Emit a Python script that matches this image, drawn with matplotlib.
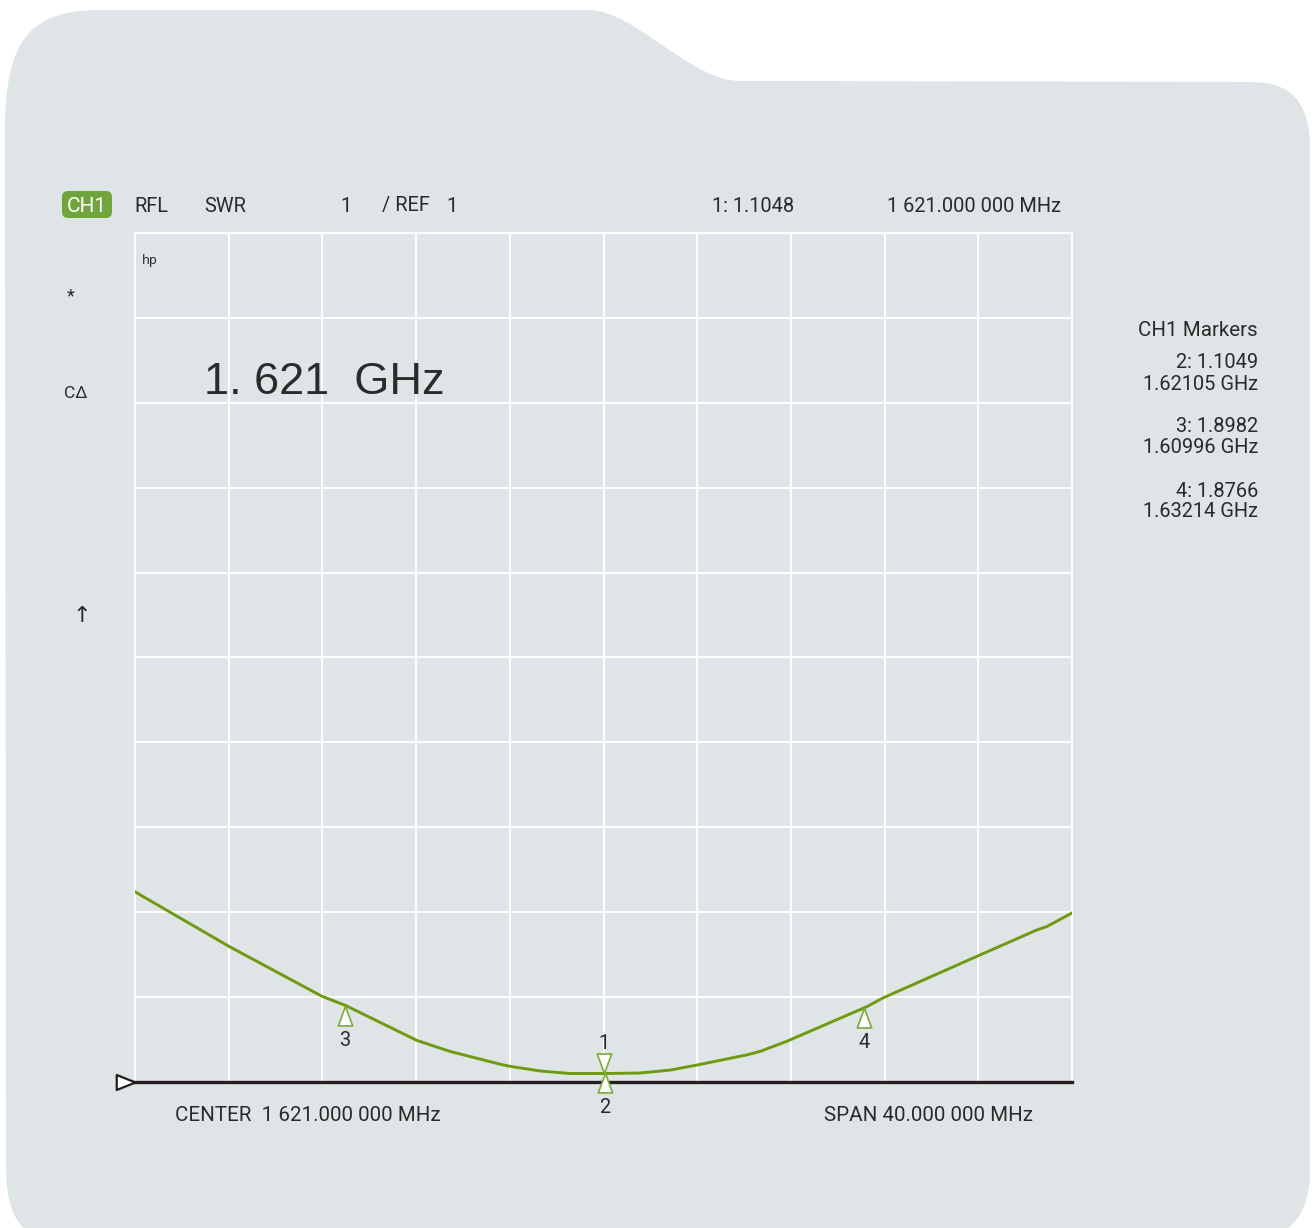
"""SWR sweep on a network-analyzer style panel (CH1, 1.621 GHz centre)."""
import numpy as np
import matplotlib; matplotlib.use("Agg")
import matplotlib.pyplot as plt
from matplotlib.path import Path
from matplotlib.patches import PathPatch, FancyBboxPatch
from matplotlib.transforms import Affine2D

plt.rcParams["font.family"] = ["Roboto", "DejaVu Sans"]

W, H = 1314, 1228
PANEL, GRID, INK = "#DFE4E7", "#FFFFFF", "#2A2A2A"
TRACE, MARK, BADGE = "#6E9A10", "#79AC3A", "#6FA53A"

# sweep (MHz) and SWR
freq_mhz = [1601.0, 1605.06, 1608.98, 1610.0, 1613.03, 1614.45, 1615.73, 1616.58, 1617.0,
            1618.29, 1619.57, 1621.15, 1622.56, 1623.84, 1624.99, 1627.13, 1627.68, 1628.83,
            1632.24, 1632.93, 1636.94, 1639.49, 1639.92, 1640.99]
swr = [3.24, 2.59, 2.01, 1.90, 1.49, 1.36, 1.27, 1.21, 1.185,
       1.13, 1.10, 1.10, 1.106, 1.14, 1.20, 1.32, 1.36, 1.48,
       1.887, 1.99, 2.48, 2.79, 2.83, 2.99]

# markers
mk_ids = ["1", "2", "3", "4"]
mk_freq = [1621.000, 1621.05, 1609.96, 1632.14]
mk_swr = [1.1048, 1.1049, 1.8982, 1.8766]
mk_up = [False, True, True, True]          # True: triangle below the trace

center_mhz, span_mhz = 1621.0, 40.0
ref_swr, per_div = 1, 1

fig = plt.figure(figsize=(W / 100, H / 100), dpi=100)
fig.patch.set_facecolor("white")
# pixel coords, y measured from top
PX = Affine2D().scale(1, -1).translate(0, H).scale(1 / W, 1 / H) + fig.transFigure

# folder-shaped panel
verts = [(5, 130), (5, 40), (30, 10), (100, 10),
         (588, 10),
         (635, 10), (690, 81), (740, 81),
         (1250, 82),
         (1290, 82), (1310, 100), (1310, 150),
         (1310, 1170),
         (1310, 1215), (1290, 1235), (1260, 1240),
         (60, 1240),
         (20, 1240), (6, 1215), (6, 1165),
         (5, 130)]
codes = [Path.MOVETO, Path.CURVE4, Path.CURVE4, Path.CURVE4,
         Path.LINETO,
         Path.CURVE4, Path.CURVE4, Path.CURVE4,
         Path.LINETO,
         Path.CURVE4, Path.CURVE4, Path.CURVE4,
         Path.LINETO,
         Path.CURVE4, Path.CURVE4, Path.CURVE4,
         Path.LINETO,
         Path.CURVE4, Path.CURVE4, Path.CURVE4,
         Path.CLOSEPOLY]
fig.add_artist(PathPatch(Path(verts, codes), fc=PANEL, ec="none", transform=PX, zorder=0))

ax = fig.add_axes([135 / W, 1 - 1082 / H, 937 / W, 849 / H])
ax.set_facecolor("none")
lo, hi = center_mhz - span_mhz / 2, center_mhz + span_mhz / 2
ax.set_xlim(lo, hi)
ax.set_ylim(ref_swr, ref_swr + 10 * per_div)
ax.set_xticks(np.linspace(lo, hi, 11))
ax.set_yticks(np.arange(ref_swr, ref_swr + 10 * per_div + 0.5, per_div))
ax.tick_params(length=0, labelbottom=False, labelleft=False)
for s in ax.spines.values():
    s.set_visible(False)
ax.grid(True, color=GRID, lw=1.4)
for gl in ax.get_xgridlines() + ax.get_ygridlines():
    gl.set_clip_on(False)

ax.plot(freq_mhz, swr, color=TRACE, lw=2.1, zorder=3, solid_joinstyle="round")
ax.axhline(ref_swr, color="#231F20", lw=2.4, zorder=4, clip_on=False)

# reference-level pointer at the left
ref_tri = Path([(0, 0), (-1, 0.4), (-1, -0.4), (0, 0)])
ax.plot([lo], [ref_swr], marker=ref_tri, ms=27, mfc="white", mec="#231F20", mew=1.6,
        ls="none", clip_on=False, zorder=5)

tri_up = Path([(0, 0), (-0.37, -1), (0.37, -1), (0, 0)])
tri_dn = Path([(0, 0), (-0.37, 1), (0.37, 1), (0, 0)])
for mid, f, v, up in zip(mk_ids, mk_freq, mk_swr, mk_up):
    ax.plot([f], [v], marker=tri_up if up else tri_dn, ms=28, mfc="white", mec=MARK,
            mew=1.2, ls="none", clip_on=False, zorder=6)
    ax.annotate(mid, (f, v), xytext=(0, -40 if up else 24), textcoords="offset pixels",
                ha="center", va="baseline", fontsize=14.4, color=INK, annotation_clip=False)

def t(x, y, s, **kw):
    kw.setdefault("fontsize", 14.4)
    kw.setdefault("color", INK)
    kw.setdefault("va", "baseline")
    fig.text(x, y, s, transform=PX, **kw)

# header
fig.add_artist(FancyBboxPatch((62, 191), 50, 27, boxstyle="round,pad=0,rounding_size=6",
                              fc=BADGE, ec="none", transform=PX, zorder=2))
t(87, 211.5, "CH1", ha="center", color="white", fontsize=15, zorder=3)
t(134, 211.5, "RFL")
t(204, 211.5, "SWR")
t(340, 211.5, f"{per_div}")
t(382, 211.5, "/ REF")
t(446, 211.5, f"{ref_swr}")
t(712, 211.5, f"1: {mk_swr[0]:.4f}")
t(887, 211.5, "1 621.000 000 MHz")

# left soft-key hints
t(142, 264, "hp", fontsize=9, family="DejaVu Sans")
t(71, 296, "*", ha="center", va="center", fontsize=13)
t(64, 398, "CΔ", fontsize=12.5)
t(82, 616, "↑", ha="center", va="center", fontsize=16, family=["DejaVu Sans"])

# big frequency readout
t(204, 394, "1. 621  GHz", fontsize=32.5, family=["Liberation Sans", "DejaVu Sans"], color="#2B2B2B")

# marker table
t(1258, 336, "CH1 Markers", ha="right", fontsize=14.8)
rows = [(368, 390, 1), (432, 453, 2), (497, 517, 3)]
for y1, y2, i in rows:
    t(1258, y1, f"{mk_ids[i]}: {mk_swr[i]:.4f}", ha="right")
    t(1258, y2, f"{mk_freq[i] / 1000:.5f} GHz", ha="right")

# footer
t(175, 1121, "CENTER  1 621.000 000 MHz", fontsize=14.8)
t(824, 1121, "SPAN 40.000 000 MHz", fontsize=14.8)

fig.savefig("out.png", dpi=100, facecolor="white")
